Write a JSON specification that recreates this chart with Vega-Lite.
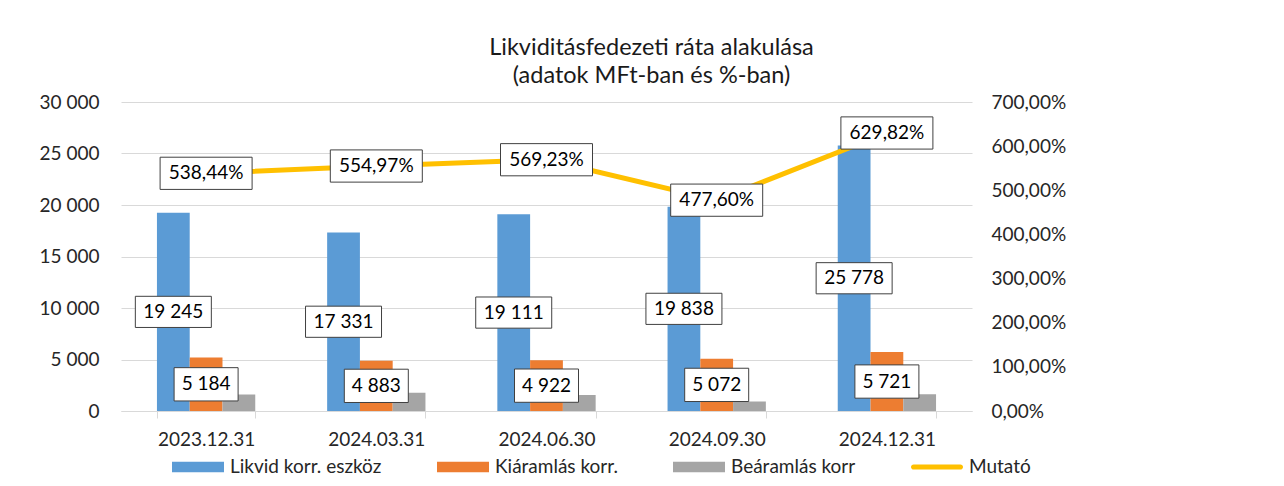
{
  "$schema": "https://vega.github.io/schema/vega-lite/v6.json",
  "width": 851,
  "height": 309,
  "autosize": "none",
  "padding": {"left": 121, "top": 102, "right": 312, "bottom": 75},
  "background": "white",
  "config": {
    "locale": {"number": {"decimal": ",", "thousands": " ", "grouping": [3], "currency": ["", " Ft"]}},
    "font": "Lato",
    "view": {"stroke": null},
    "axis": {"labelFont": "Lato", "labelFontSize": 19, "labelColor": "#262626"},
    "legend": {
      "orient": "none",
      "legendX": 51,
      "legendY": 339,
      "direction": "horizontal",
      "title": null,
      "padding": 0,
      "labelFont": "Lato",
      "labelFontSize": 19,
      "labelColor": "#262626",
      "symbolSize": 2704,
      "symbolType": "M-1,-0.2H1V0.2H-1Z",
      "symbolStrokeWidth": 0,
      "columnPadding": 55,
      "labelOffset": 6
    }
  },
  "title": {
    "text": ["Likviditásfedezeti ráta alakulása", "(adatok MFt-ban és %-ban)"],
    "font": "Lato",
    "fontSize": 23.5,
    "fontWeight": "normal",
    "color": "#1a1a1a",
    "lineHeight": 28,
    "anchor": "middle",
    "dx": 105,
    "offset": 6
  },
  "datasets": {
    "bars": [
      {"date": "2023.12.31", "series": "Likvid korr. eszköz", "value": 19245},
      {"date": "2023.12.31", "series": "Kiáramlás korr.", "value": 5184},
      {"date": "2023.12.31", "series": "Beáramlás korr", "value": 1610},
      {"date": "2024.03.31", "series": "Likvid korr. eszköz", "value": 17331},
      {"date": "2024.03.31", "series": "Kiáramlás korr.", "value": 4883},
      {"date": "2024.03.31", "series": "Beáramlás korr", "value": 1760},
      {"date": "2024.06.30", "series": "Likvid korr. eszköz", "value": 19111},
      {"date": "2024.06.30", "series": "Kiáramlás korr.", "value": 4922},
      {"date": "2024.06.30", "series": "Beáramlás korr", "value": 1565},
      {"date": "2024.09.30", "series": "Likvid korr. eszköz", "value": 19838},
      {"date": "2024.09.30", "series": "Kiáramlás korr.", "value": 5072},
      {"date": "2024.09.30", "series": "Beáramlás korr", "value": 918},
      {"date": "2024.12.31", "series": "Likvid korr. eszköz", "value": 25778},
      {"date": "2024.12.31", "series": "Kiáramlás korr.", "value": 5721},
      {"date": "2024.12.31", "series": "Beáramlás korr", "value": 1628}
    ],
    "ratio": [
      {"date": "2023.12.31", "ratio": 5.3844},
      {"date": "2024.03.31", "ratio": 5.5497},
      {"date": "2024.06.30", "ratio": 5.6923},
      {"date": "2024.09.30", "ratio": 4.776},
      {"date": "2024.12.31", "ratio": 6.2982}
    ]
  },
  "resolve": {"scale": {"y": "independent"}, "axis": {"y": "independent"}},
  "layer": [
    {
      "data": {"name": "bars"},
      "mark": {"type": "bar"},
      "encoding": {
        "x": {
          "field": "date", "type": "nominal",
          "scale": {"paddingInner": 0.4224, "paddingOuter": 0.2112},
          "axis": {"title": null, "labelAngle": 0, "domainColor": "#d9d9d9", "tickColor": "#d9d9d9", "tickBand": "extent", "tickSize": 7, "labelPadding": 12}
        },
        "xOffset": {
          "field": "series", "type": "nominal",
          "scale": {"domain": ["Likvid korr. eszköz", "Kiáramlás korr.", "Beáramlás korr"], "paddingInner": 0, "paddingOuter": 0}
        },
        "y": {
          "field": "value", "type": "quantitative",
          "scale": {"domain": [0, 30000], "nice": false},
          "axis": {"title": null, "values": [0, 5000, 10000, 15000, 20000, 25000, 30000], "format": ",.0f", "domain": false, "ticks": false, "labelPadding": 22, "grid": true, "gridColor": "#d9d9d9"}
        },
        "color": {
          "field": "series", "type": "nominal",
          "scale": {"domain": ["Likvid korr. eszköz", "Kiáramlás korr.", "Beáramlás korr", "Mutató"], "range": ["#5B9BD5", "#ED7D31", "#A5A5A5", "#FFC000"]},
          "legend": {
            "encode": {
              "symbols": {
                "update": {
                  "shape": {"signal": "datum.label === 'Mutató' ? 'M-0.9,-0.1H0.9A0.1,0.1 0 0 1 0.9,0.1H-0.9A0.1,0.1 0 0 1 -0.9,-0.1Z' : 'M-1,-0.2H1V0.2H-1Z'"},
                  "fill": {"scale": "color", "field": "value"},
                  "strokeWidth": {"value": 0}
                }
              }
            }
          }
        }
      }
    },
    {
      "data": {"name": "ratio"},
      "encoding": {
        "x": {"field": "date", "type": "nominal"},
        "y": {
          "field": "ratio", "type": "quantitative",
          "scale": {"domain": [0, 7], "nice": false},
          "axis": {"orient": "right", "title": null, "values": [0, 1, 2, 3, 4, 5, 6, 7], "format": ".2%", "grid": false, "domain": false, "ticks": false, "labelPadding": 19}
        }
      },
      "layer": [
        {"mark": {"type": "line", "strokeWidth": 5}, "encoding": {"color": {"datum": "Mutató"}}},
        {"mark": {"type": "point", "shape": "M-1,-0.35H1V0.35H-1Z", "size": 8464, "filled": true, "fill": "white", "stroke": "#404040", "strokeWidth": 1, "opacity": 1}, "encoding": {}},
        {"mark": {"type": "text", "font": "Lato", "fontSize": 19, "color": "#000000", "baseline": "middle", "align": "center"}, "encoding": {"text": {"field": "ratio", "type": "quantitative", "format": ".2%"}}}
      ]
    },
    {
      "data": {"name": "bars"},
      "transform": [{"filter": "datum.series === 'Likvid korr. eszköz'"}],
      "encoding": {
        "x": {"field": "date", "type": "nominal"},
        "xOffset": {"field": "series", "type": "nominal"},
        "y": {"field": "value", "type": "quantitative", "scale": {"domain": [0, 60000], "nice": false}, "axis": null}
      },
      "layer": [
        {"mark": {"type": "point", "shape": "M-1,-0.41H1V0.41H-1Z", "size": 5776, "filled": true, "fill": "white", "stroke": "#404040", "strokeWidth": 1, "opacity": 1}, "encoding": {}},
        {"mark": {"type": "text", "font": "Lato", "fontSize": 19, "color": "#000000", "baseline": "middle", "align": "center"}, "encoding": {"text": {"field": "value", "type": "quantitative", "format": ",.0f"}}}
      ]
    },
    {
      "data": {"name": "bars"},
      "transform": [{"filter": "datum.series === 'Kiáramlás korr.'"}],
      "encoding": {
        "x": {"field": "date", "type": "nominal"},
        "xOffset": {"field": "series", "type": "nominal"},
        "y": {"field": "value", "type": "quantitative", "scale": {"domain": [0, 60000], "nice": false}, "axis": null}
      },
      "layer": [
        {"mark": {"type": "point", "shape": "M-1,-0.52H1V0.52H-1Z", "size": 4096, "filled": true, "fill": "white", "stroke": "#404040", "strokeWidth": 1, "opacity": 1}, "encoding": {}},
        {"mark": {"type": "text", "font": "Lato", "fontSize": 19, "color": "#000000", "baseline": "middle", "align": "center"}, "encoding": {"text": {"field": "value", "type": "quantitative", "format": ",.0f"}}}
      ]
    }
  ]
}
